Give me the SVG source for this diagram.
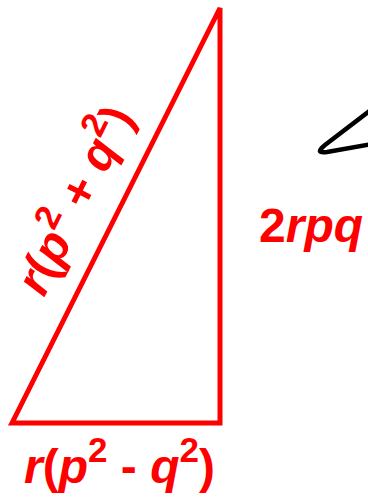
<svg xmlns="http://www.w3.org/2000/svg" width="368" height="497" viewBox="0 0 368 497">
<style>
.tri{fill:none;stroke:#ff0000;stroke-width:5;stroke-linejoin:miter}
.lbl{font-family:"Liberation Sans",Arial,sans-serif;font-weight:bold;font-size:48px;fill:#ff0000}
.it{font-style:italic}
.sup{font-size:35px}
.blk{fill:none;stroke:#000;stroke-width:4.5;stroke-linecap:round;stroke-linejoin:round}
</style>
<rect width="368" height="497" fill="#fff"/>
<g id="triangle">
<polygon class="tri" points="12,423 220,8 220,423"/>
</g>
<g id="other-shape">
<path class="blk" d="M372,109 L325,145 Q314,154 327,152 L372,144"/>
</g>
<g id="label-hyp" transform="translate(44,298) rotate(-63.4)">
<text class="lbl" x="0" y="0"><tspan class="it">r</tspan>(<tspan class="it">p</tspan><tspan class="sup" dy="-21">2</tspan><tspan dy="21"> + </tspan><tspan class="it">q</tspan><tspan class="sup" dy="-21">2</tspan><tspan dy="21">)</tspan></text>
</g>
<g id="label-side">
<text class="lbl" x="259" y="242">2<tspan class="it">rpq</tspan></text>
</g>
<g id="label-base">
<text class="lbl" x="24" y="483"><tspan class="it">r</tspan>(<tspan class="it">p</tspan><tspan class="sup" dy="-21">2</tspan><tspan dy="21"> - </tspan><tspan class="it">q</tspan><tspan class="sup" dy="-21">2</tspan><tspan dy="21">)</tspan></text>
</g>
</svg>
